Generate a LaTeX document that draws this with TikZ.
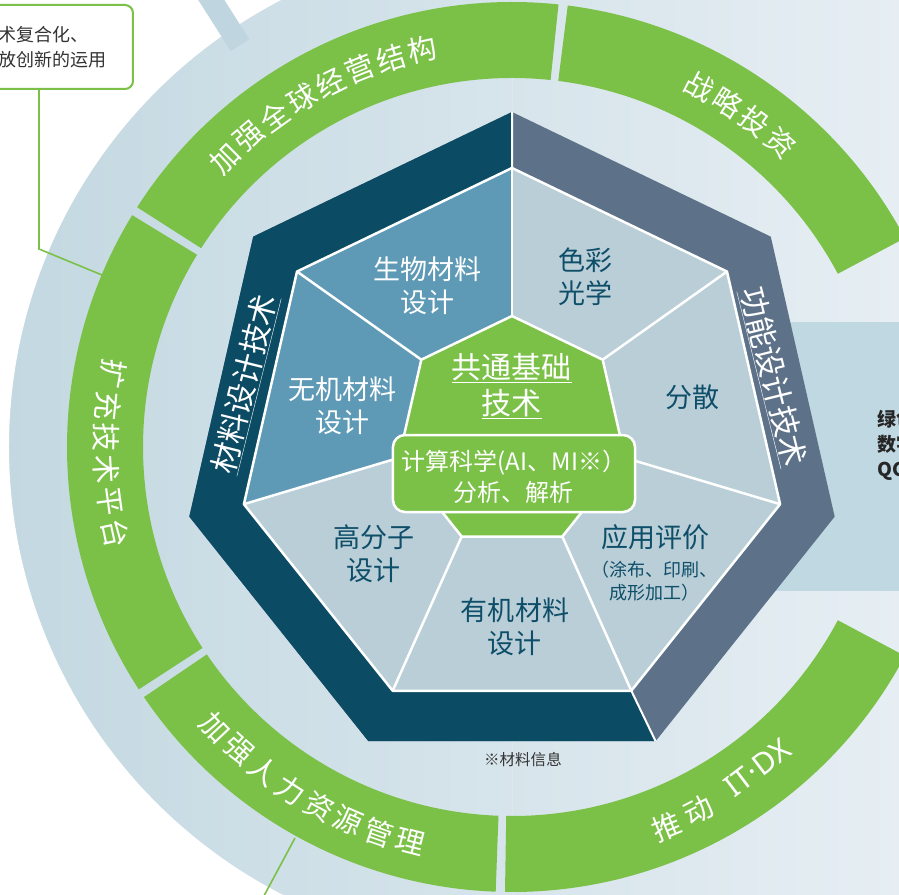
\documentclass[tikz,border=0pt]{standalone}
\usepackage{fontspec}
\setmainfont{Noto Sans CJK SC}
\newfontfamily\latinsans{Noto Sans}
\usetikzlibrary{calc}
\definecolor{gr}{HTML}{7BC147}
\definecolor{dk}{HTML}{0B4B64}
\definecolor{sl}{HTML}{5D7289}
\definecolor{md}{HTML}{5E9AB5}
\definecolor{lt}{HTML}{B9CED7}
\definecolor{tx}{HTML}{0E4E69}
\definecolor{bgl}{HTML}{C3D8E1}
\definecolor{bgr}{HTML}{E6EEF3}
\definecolor{rectc}{HTML}{C0D8E1}
\definecolor{stripc}{HTML}{BFD5DF}
\definecolor{gtx}{HTML}{333333}
\newcommand\ringseg[2]{\fill[gr] (#1:445) arc[start angle=#1, end angle=#2, radius=445] -- (#2:369) arc[start angle=#2, end angle=#1, radius=369] -- cycle;}
\begin{document}
\begin{tikzpicture}[x=1pt,y=1pt,
  ringtxt/.style={text=white, font=\fontsize{29}{29}\selectfont, inner sep=0pt},
  sectxt/.style={font=\fontsize{27}{33}\selectfont, align=center, inner sep=0pt},
  bandtxt/.style={text=white, font=\fontsize{30.5}{30.5}\selectfont, inner sep=0pt},
  conn/.style={draw=gr, line width=1.6pt},
  wline/.style={draw=white, line width=2.5pt, line join=round}]
\useasboundingbox (-512,-447) rectangle (387,447);
\clip (-512,-447) rectangle (387,447);
% background
\shade[left color=bgl, right color=bgr] (-512,-447) rectangle (387,447);
\begin{scope}
  \clip (-512,-447) rectangle (0,447);
  \fill[white, even odd rule] (-530,-470) rectangle (0,470) (0,0) circle (503);
\end{scope}
\fill[rectc] (180,-144) rectangle (400,125);
\draw[stripc, line width=22pt] (-309,460) -- (-272,402);
% connectors
\coordinate (cpt) at (-410,172);
\coordinate (bpt) at (-217,-391);
\coordinate (bend) at (-254,-460);
\node[draw=gr, line width=2pt, fill=white, rounded corners=8pt, minimum width=188, minimum height=84] (callout) at (-473,400) {};
\draw[conn] (callout.south) -- ++(0,-159) -- (cpt);
\draw[conn] (bpt) -- (bend);
\node[anchor=west, inner sep=0pt, text=gtx, font=\fontsize{18}{18}\selectfont] (cl1) at (-514,412) {术复合化、};
\node[anchor=west, inner sep=0pt, text=gtx, font=\fontsize{18}{18}\selectfont] (cl2) at (-514,387) {放创新的运用};
% green ring
\ringseg{28}{82.8}
\ringseg{84}{147.4}
\ringseg{148.6}{213}
\ringseg{214.2}{267.9}
\ringseg{-90.9}{-28}
% ring texts
\foreach \c [count=\i from 0] in {战,略,投,资}{
  \pgfmathsetmacro\a{62.5-\i*4.63}\pgfmathsetmacro\r{\a-90}
  \node[ringtxt, rotate=\r] (ra\i) at (\a:406) {\c};}
\foreach \c [count=\i from 0] in {加,强,全,球,经,营,结,构}{
  \pgfmathsetmacro\a{134.9-\i*4.6}\pgfmathsetmacro\r{\a-90}
  \node[ringtxt, rotate=\r] (rb\i) at (\a:407) {\c};}
\foreach \c [count=\i from 0] in {扩,充,技,术,平,台}{
  \pgfmathsetmacro\a{169.6+\i*4.54}\pgfmathsetmacro\r{\a+90}
  \node[ringtxt, rotate=\r] (rc\i) at (\a:406) {\c};}
\foreach \c [count=\i from 0] in {加,强,人,力,资,源,管,理}{
  \pgfmathsetmacro\a{223.4+\i*4.59}\pgfmathsetmacro\r{\a+90}
  \node[ringtxt, rotate=\r] (rd\i) at (\a:408) {\c};}
\node[ringtxt, rotate=22.2] (re0) at (-67.8:410) {推};
\node[ringtxt, rotate=27.2] (re1) at (-62.8:408) {动};
\node[ringtxt, rotate=37.3, font=\latinsans\fontsize{30}{30}\selectfont] (re2) at (-52.6:404) {IT·DX};
% heptagon coordinates
\foreach \k in {0,...,6}{
  \pgfmathsetmacro\ang{90+\k*360/7}
  \path (0,4) ++(\ang:331) coordinate (o\k);
  \path (0,4) ++(\ang:275) coordinate (i\k);
  \path (0,15) ++(\ang:116) coordinate (g\k);
}
\fill[sl] (o0)--(o1)--(o2)--(o3)--(o4)--(o5)--(o6)--cycle;
\fill[dk] (o0)--(o1)--(o2)--(o3)--(o4)--(i4)--(i3)--(i2)--(i1)--(i0)--cycle;
\foreach \k/\col in {0/md,1/md,2/lt,3/lt,4/lt,5/lt,6/lt}{
  \pgfmathtruncatemacro\n{mod(\k+1,7)}
  \fill[\col] (i\k)--(i\n)--(g\n)--(g\k)--cycle;
}
\foreach \k in {0,...,6}{\draw[wline] (i\k)--(g\k);}
\draw[wline] (i0)--(i1)--(i2)--(i3)--(i4)--(i5)--(i6)--cycle;
\draw[draw=white, line width=2pt] (o0)--(i0) (o4)--(i4);
\filldraw[fill=gr, wline] (g0)--(g1)--(g2)--(g3)--(g4)--(g5)--(g6)--cycle;
\node[draw=white, line width=2.5pt, fill=gr, rounded corners=12pt, minimum width=242, minimum height=77] (box) at (2,-26.5) {};
% texts
\node[sectxt, text=white] (s1) at (-84,161) {生物材料\\设计};
\node[sectxt, text=white] (s2) at (-169,41) {无机材料\\设计};
\node[sectxt, text=tx] (s3) at (-138,-107) {高分子\\设计};
\node[sectxt, text=tx] (s4) at (3,-180) {有机材料\\设计};
\node[sectxt, text=tx] (s5) at (73,170) {色彩\\光学};
\node[sectxt, text=tx] (s6) at (180,50) {分散};
\node[sectxt, text=tx] (s7) at (143,-90) {应用评价};
\node[sectxt, text=tx, font=\fontsize{18}{23}\selectfont] (s7b) at (142,-134) {（涂布、印刷、\\成形加工）};
\node[sectxt, text=white, font=\fontsize{30}{36}\selectfont] (core) at (0,61) {\underline{共通基础}\\\underline{技术}};
\node[sectxt, text=white, font=\fontsize{24}{31}\selectfont] (boxlbl) at (2,-30) {计算科学(AI、MI※）\\分析、解析};
\node[bandtxt, rotate=76] (lband) at (-267,63) {\underline{材料设计技术}};
\node[bandtxt, rotate=-76] (rband) at (261,70) {\underline{功能设计技术}};
\node[inner sep=0pt, text=gtx, font=\fontsize{15.5}{15.5}\selectfont] (note) at (11,-313) {※材料信息};
\node[anchor=west, inner sep=0pt, align=left, text=black!85, font=\bfseries\fontsize{19}{25}\selectfont] (rtx) at (365,2) {绿色\\数字\\QC};
\end{tikzpicture}
\end{document}
